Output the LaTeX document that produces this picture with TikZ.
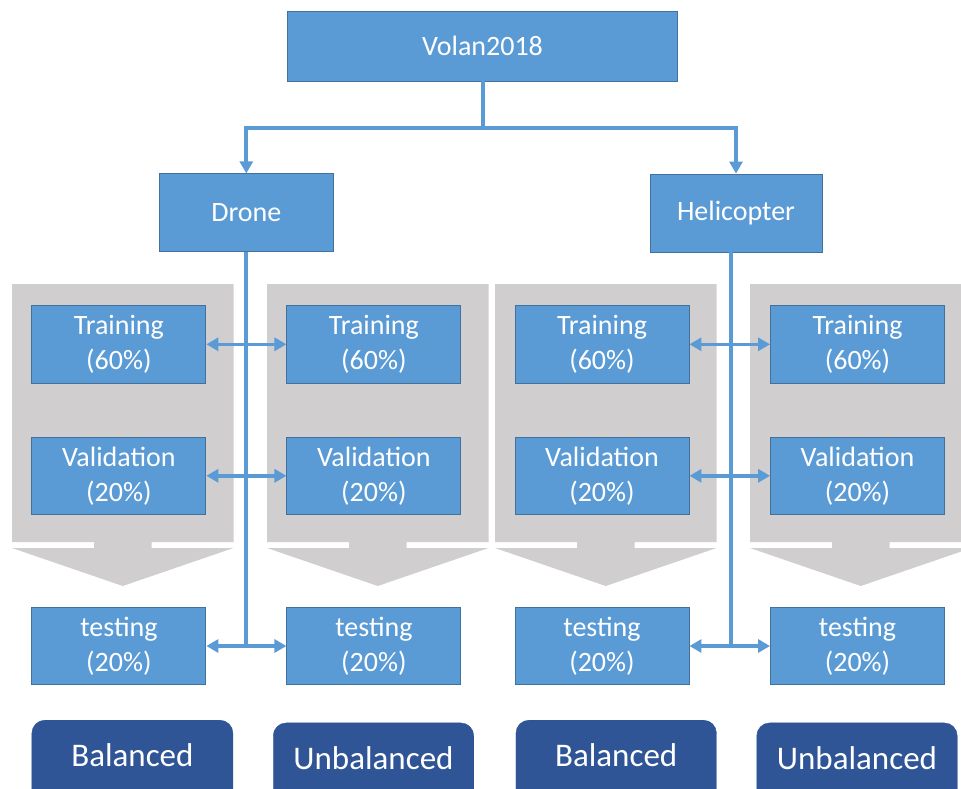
\documentclass[tikz,border=0pt]{standalone}
\usepackage{fontspec}
\setmainfont{Carlito}
\usetikzlibrary{arrows.meta}
\definecolor{boxblue}{HTML}{5B9BD5}
\definecolor{boxedge}{HTML}{41719C}
\definecolor{linkblue}{HTML}{5B9BD5}
\definecolor{navy}{HTML}{2F5597}
\definecolor{panelgray}{HTML}{D0CECE}

\begin{document}
\begin{tikzpicture}[x=1pt,y=-1pt,
  stage/.style={draw=boxedge, line width=0.9pt, fill=boxblue, text=white,
    font=\fontsize{28}{35}\selectfont, align=center, inner sep=0pt,
    minimum width=174pt, minimum height=77.5pt},
  topbox/.style={stage, minimum height=78pt},
  tagbox/.style={fill=navy, draw=navy, rounded corners=13pt, inner sep=0pt,
    minimum width=200.5pt, minimum height=95pt, anchor=north},
  taglabel/.style={text=white, font=\fontsize{33}{40}\selectfont, anchor=base, inner sep=0pt},
  trunk/.style={draw=linkblue, line width=4pt},
  link/.style={draw=linkblue, line width=3.5pt},
  tip/.style={-{Triangle[length=12pt,width=13pt]}},
  bothtips/.style={{Triangle[length=12pt,width=13pt]}-{Triangle[length=12pt,width=13pt]}},
  splitarrow/.pic={
    \fill[panelgray] (0,0) -- (221.5,0) -- (221.5,258) -- (139.5,258) -- (139.5,264)
      -- (221.5,264) -- (110.75,302) -- (0,264) -- (82,264) -- (82,258)
      -- (0,258) -- cycle;
  }
]
\useasboundingbox (0,0) rectangle (961,789);
\clip (0,0) rectangle (961,789);

% grey split panels behind each column
\pic at (12,284) {splitarrow};
\pic at (267,284) {splitarrow};
\pic at (495,284) {splitarrow};
\pic at (750,284) {splitarrow};

% hierarchy
\node[topbox, minimum width=389.5pt, minimum height=69.5pt] (volan) at (482.5,46.3) {Volan2018};
\node[topbox] (drone) at (246.3,212.8) {Drone};
\node[topbox, minimum width=172pt] (heli) at (736,213) {Helicopter};

% data splits
\node[stage] (tr1) at (118.9,344.3) {Training\\(60\%)};
\node[stage] (tr2) at (373.9,344.3) {Training\\(60\%)};
\node[stage] (tr3) at (602,344.3) {Training\\(60\%)};
\node[stage] (tr4) at (857.5,344.3) {Training\\(60\%)};

\node[stage] (va1) at (118.9,475.8) {Validation\\(20\%)};
\node[stage] (va2) at (373.9,475.8) {Validation\\(20\%)};
\node[stage] (va3) at (602,475.8) {Validation\\(20\%)};
\node[stage] (va4) at (857.5,475.8) {Validation\\(20\%)};

\node[stage] (te1) at (118.9,646) {testing\\(20\%)};
\node[stage] (te2) at (373.9,646) {testing\\(20\%)};
\node[stage] (te3) at (602,646) {testing\\(20\%)};
\node[stage] (te4) at (857.5,646) {testing\\(20\%)};

% balanced / unbalanced tags
\node[tagbox, minimum width=201pt] (bal1) at (132.4,720) {};
\node[tagbox] (unb1) at (373.5,722.7) {};
\node[tagbox] (bal2) at (616.2,720) {};
\node[tagbox] (unb2) at (857,722.7) {};
\node[taglabel] (bal1t) at (132.4,766.7) {Balanced};
\node[taglabel] (unb1t) at (373.5,769) {Unbalanced};
\node[taglabel] (bal2t) at (616.2,766.7) {Balanced};
\node[taglabel] (unb2t) at (857,769) {Unbalanced};

% connectors from the dataset to the two classes
\coordinate (split) at (482.5,128);
\draw[trunk] (volan.south) -- (split);
\draw[trunk, tip] (split) -| (drone.north);
\draw[trunk, tip] (split) -| (heli.north);

% class trunks down to the testing row
\coordinate (hb) at ([xshift=-5.5pt]heli.south);
\draw[trunk] (drone.south) -- (drone.south |- te1.east);
\draw[trunk] (hb) -- (hb |- te3.east);

% links between balanced and unbalanced splits
\draw[link, bothtips] (tr1.east) -- (tr2.west);
\draw[link, bothtips] (va1.east) -- (va2.west);
\draw[link, bothtips] (te1.east) -- (te2.west);
\draw[link, bothtips] (tr3.east) -- (tr4.west);
\draw[link, bothtips] (va3.east) -- (va4.west);
\draw[link, bothtips] (te3.east) -- (te4.west);
\end{tikzpicture}
\end{document}
